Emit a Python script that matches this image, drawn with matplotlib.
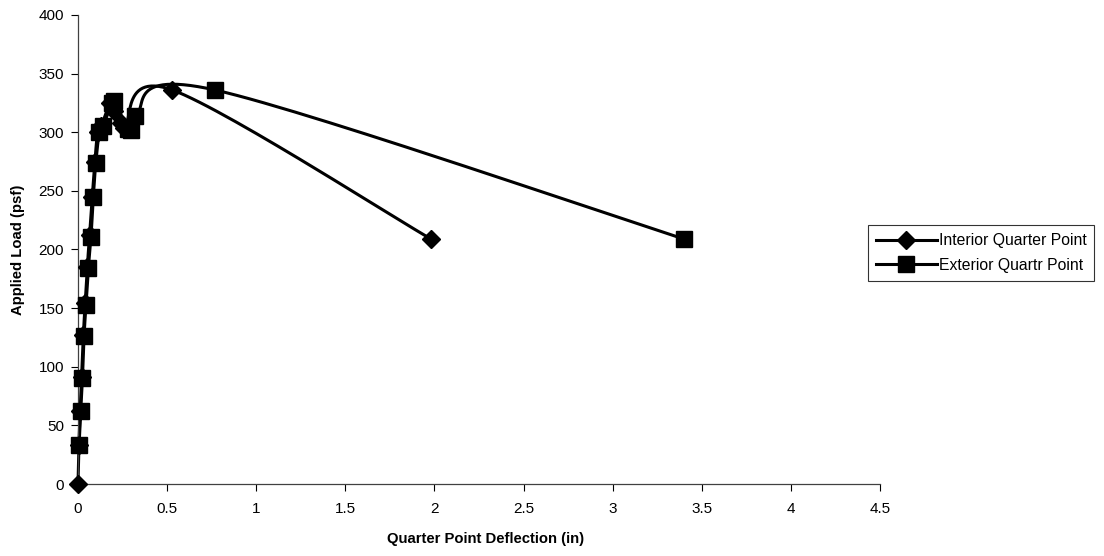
import numpy as np
import matplotlib
matplotlib.use('Agg')
import matplotlib.pyplot as plt
from matplotlib.lines import Line2D

plt.rcParams['font.family'] = ['Liberation Sans', 'DejaVu Sans']

# Interior quarter point readings
interior_x = [0, 0.005, 0.012, 0.02, 0.03, 0.04, 0.052, 0.065, 0.08, 0.095, 0.11, 0.13, 0.18, 0.2, 0.24, 0.26, 0.53, 1.98]
interior_y = [0, 33, 62, 91, 127, 154, 185, 212, 245, 275, 300, 305, 325, 318, 308, 304, 336, 209]

# Exterior quarter point readings
exterior_x = [0.006, 0.015, 0.025, 0.034, 0.045, 0.058, 0.073, 0.086, 0.1, 0.12, 0.14, 0.19, 0.2, 0.28, 0.3, 0.32, 0.77, 3.40]
exterior_y = [33, 62, 90, 126, 153, 184, 211, 245, 274, 300, 305, 325, 327, 303, 302, 314, 336, 209]

x_ticks = [0, 0.5, 1, 1.5, 2, 2.5, 3, 3.5, 4, 4.5]
x_tick_labels = ['0', '0.5', '1', '1.5', '2', '2.5', '3', '3.5', '4', '4.5']
y_ticks = [0, 50, 100, 150, 200, 250, 300, 350, 400]


def smooth(xs, ys, sx, sy, n=30):
    # Excel-style smoothed line: Catmull-Rom bezier in pixel space
    p = np.column_stack([np.array(xs) * sx, np.array(ys) * sy])
    pts = np.vstack([p[0], p, p[-1]])
    out = []
    t = np.linspace(0, 1, n)[:, None]
    for i in range(1, len(pts) - 2):
        p0, p1, p2, p3 = pts[i - 1], pts[i], pts[i + 1], pts[i + 2]
        b1 = p1 + (p2 - p0) / 6
        b2 = p2 - (p3 - p1) / 6
        seg = ((1 - t) ** 3) * p1 + 3 * ((1 - t) ** 2) * t * b1 + 3 * (1 - t) * t ** 2 * b2 + t ** 3 * p2
        out.append(seg)
    out = np.vstack(out)
    return out[:, 0] / sx, out[:, 1] / sy


fig = plt.figure(figsize=(11.04, 5.56), dpi=100)
ax = fig.add_axes([78 / 1104, 1 - 484 / 556, 802 / 1104, 469 / 556])

sx = 802 / 4.5
sy = 469 / 400

lw = 2.2
ms_d = 9.5
ms_s = 11.5
xi, yi = smooth(interior_x, interior_y, sx, sy)
xe, ye = smooth(exterior_x, exterior_y, sx, sy)
ax.plot(xi, yi, color='black', lw=lw, zorder=2, clip_on=False)
ax.plot(interior_x, interior_y, ls='none', marker='D', ms=ms_d, color='black', zorder=3, clip_on=False)
ax.plot(xe, ye, color='black', lw=lw, zorder=2, clip_on=False)
ax.plot(exterior_x, exterior_y, ls='none', marker='s', ms=ms_s, color='black', zorder=4, clip_on=False)

ax.set_xlim(0, 4.5)
ax.set_ylim(0, 400)
ax.set_xticks(x_ticks)
ax.set_xticklabels(x_tick_labels)
ax.set_yticks(y_ticks)
ax.tick_params(direction='out', length=5, width=0.8, labelsize=11, colors='black', pad=5)
ax.tick_params(axis='x', pad=8)

for s in ['top', 'right']:
    ax.spines[s].set_visible(False)
for s in ['left', 'bottom']:
    ax.spines[s].set_color('#404040')
    ax.spines[s].set_linewidth(0.9)

ax.set_xlabel('Quarter Point Deflection (in)', fontsize=10.7, fontweight='bold')
ax.xaxis.set_label_coords((486 - 78) / 802, -(539 - 484) / 469)
ax.xaxis.label.set_va('center')
ax.set_ylabel('Applied Load (psf)', fontsize=10.7, fontweight='bold')
ax.yaxis.set_label_coords(-(78 - 18) / 802, 0.5)
ax.yaxis.label.set_va('center')

handles = [
    Line2D([], [], color='black', lw=lw, marker='D', ms=ms_d),
    Line2D([], [], color='black', lw=lw, marker='s', ms=ms_s),
]
leg = fig.legend(handles, ['Interior Quarter Point', 'Exterior Quartr Point'],
                 loc='center left', bbox_to_anchor=(868 / 1104, 1 - 253 / 556),
                 fontsize=11.3, frameon=True, fancybox=False, handlelength=3.9,
                 handletextpad=0.1, borderpad=0.5, labelspacing=0.6, borderaxespad=0)
leg.get_frame().set_edgecolor('black')
leg.get_frame().set_linewidth(0.8)

fig.savefig('out.png', dpi=100)
